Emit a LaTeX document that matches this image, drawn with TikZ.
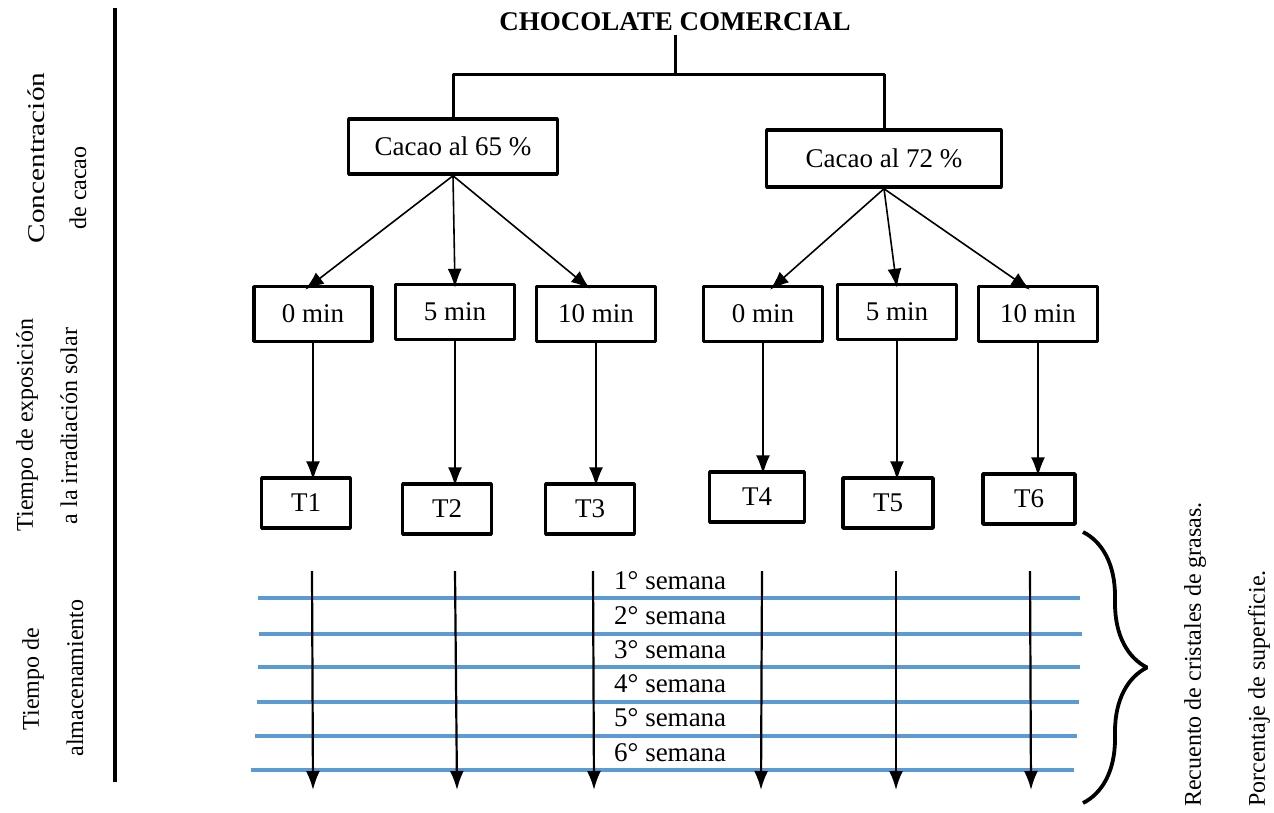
\documentclass[tikz,border=0pt]{standalone}
\usepackage{fontspec}
\setmainfont{Liberation Serif}
\usetikzlibrary{arrows.meta,decorations.pathreplacing}
\definecolor{weekblue}{RGB}{91,155,213}
\begin{document}
\begin{tikzpicture}[x=1pt,y=-1pt,line join=bevel,
  box/.style={draw,line width=3.5pt,inner sep=0pt,font=\fontsize{27}{32}\selectfont},
  lbl/.style={font=\fontsize{24}{28}\selectfont,rotate=90,inner sep=0pt},
  week/.style={weekblue,line width=4pt},
  arr/.style={-{Latex[length=19pt,width=14pt]},line width=1.6pt},
  stem/.style={line width=3pt}]
\useasboundingbox (0,0) rectangle (1274,812);
%%
\node (title) at (675,22) [font=\fontsize{27}{32}\selectfont\bfseries] {CHOCOLATE COMERCIAL};
\coordinate (split) at (675,74);
\node (c65) at (453,146.5) [box,minimum width=209pt,minimum height=55pt] {Cacao al 65 \%};
\node (c72) at (884,158.5) [box,minimum width=235pt,minimum height=57pt] {Cacao al 72 \%};
\draw [stem] (title.south) -- (split);
\draw [stem] (split) -| (c65.north);
\draw [stem] (split) -| (c72.north);
%
\node (m1) at (313,314) [box,minimum width=118pt,minimum height=55pt] {0 min};
\node (m2) at (455,312) [box,minimum width=119pt,minimum height=55pt] {5 min};
\node (m3) at (596,314) [box,minimum width=119pt,minimum height=55pt] {10 min};
\node (m4) at (763,314) [box,minimum width=119pt,minimum height=55pt] {0 min};
\node (m5) at (897,312) [box,minimum width=119pt,minimum height=55pt] {5 min};
\node (m6) at (1038,314) [box,minimum width=119pt,minimum height=55pt] {10 min};
\draw [arr] (c65.south) -- ([xshift=-8pt,yshift=-5pt]m1.north);
\draw [arr] (c65.south) -- ([yshift=-5pt]m2.north);
\draw [arr] (c65.south) -- ([xshift=-6pt,yshift=-4pt]m3.north);
\draw [arr] (c72.south) -- ([xshift=7pt,yshift=-5pt]m4.north);
\draw [arr] (c72.south) -- ([yshift=-5pt]m5.north);
\draw [arr] (c72.south) -- ([xshift=-8pt,yshift=-5pt]m6.north);
%
\node (t1) at (306,503) [box,minimum width=89pt,minimum height=50pt] {T1};
\node (t2) at (447,509) [box,minimum width=89pt,minimum height=50pt] {T2};
\node (t3) at (590,509) [box,minimum width=89pt,minimum height=50pt] {T3};
\node (t4) at (757,497) [box,minimum width=95pt,minimum height=50pt] {T4};
\node (t5) at (888,503) [box,minimum width=90pt,minimum height=50pt] {T5};
\node (t6) at (1029,499) [box,minimum width=92pt,minimum height=50pt] {T6};
\foreach \i in {1,...,6}
  \draw [arr] (m\i.south) -- ([yshift=-4pt]m\i.south |- t\i.north);
%
\foreach \y/\xa/\xb in {598/258/1080, 634/259/1082, 667/258/1080, 702/257/1079, 736/255/1077, 770/251/1074}
  \draw [week] (\xa,\y) -- (\xb,\y);
\foreach \y [count=\i] in {581,616,650,684,718,753}
  \node (wk\i) at (614,\y) [anchor=west,inner sep=0pt,font=\fontsize{27}{32}\selectfont] {\i° semana};
\foreach \xa/\xb [count=\i] in {312/313, 455/457, 593/594, 762/761, 896/896, 1030/1031} {
  \coordinate (s\i) at (\xa,571);
  \coordinate (e\i) at (\xb,790);
  \draw [arr,line width=2.2pt] (s\i) -- (e\i);
}
%
\draw [decorate,decoration={brace,amplitude=64pt},line width=3.8pt] (1083,532) -- (1083,803);
\node (rec) at (1195,807) [lbl,anchor=west] {Recuento de cristales de grasas.};
\node (por) at (1259,807) [lbl,anchor=west] {Porcentaje de superficie.};
%
\draw [line width=4pt] (115,8) -- (115,782);
\node (lc1) at (36,158) [lbl] {\scalebox{1.22}[1]{Concentración}};
\node (lc2) at (78,188) [lbl] {de cacao};
\node (le1) at (27,425) [lbl] {Tiempo de exposición};
\node (le2) at (69,426) [lbl] {a la irradiación solar};
\node (la1) at (33,679) [lbl] {Tiempo de};
\node (la2) at (75,678) [lbl] {almacenamiento};
%
\end{tikzpicture}
\end{document}
